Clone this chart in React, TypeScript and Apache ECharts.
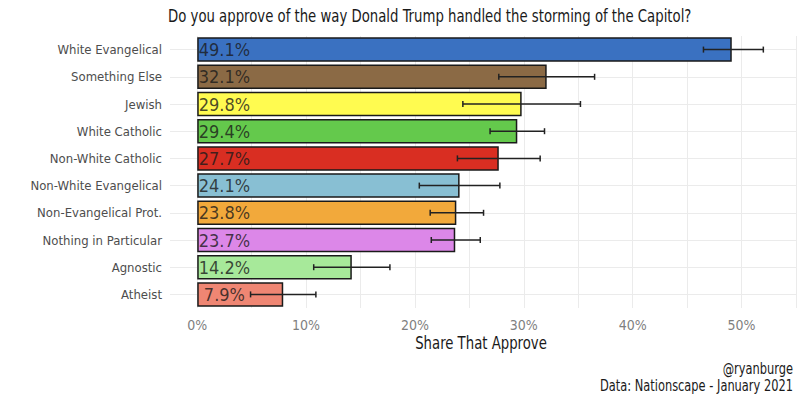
import { useEffect, useRef } from 'react';
import * as echarts from 'echarts';

const CATEGORIES = [
  'White Evangelical',
  'Something Else',
  'Jewish',
  'White Catholic',
  'Non-White Catholic',
  'Non-White Evangelical',
  'Non-Evangelical Prot.',
  'Nothing in Particular',
  'Agnostic',
  'Atheist',
];
const SHARES = [49.1, 32.1, 29.8, 29.4, 27.7, 24.1, 23.8, 23.7, 14.2, 7.9];
const LOWER = [46.5, 27.7, 24.4, 26.9, 23.9, 20.4, 21.4, 21.5, 10.7, 4.9];
const UPPER = [52.0, 36.5, 35.2, 31.9, 31.5, 27.8, 26.3, 26.0, 17.7, 10.9];
const COLORS = [
  '#3a71c1',
  '#8b6a45',
  '#fffb50',
  '#64c94c',
  '#d92e22',
  '#88bfd3',
  '#f2a93b',
  '#dc87e8',
  '#a7e99a',
  '#ef8673',
];
const X_TICKS_EVERY = 10;
const LABEL_X = 2.5;

const FONT = "'DejaVu Sans Condensed', 'Liberation Sans Narrow', sans-serif";
const NARROW = 0.82;

export default function App() {
  const chartRef = useRef<HTMLDivElement>(null);

  useEffect(() => {
    document.body.style.margin = '0';
    if (!chartRef.current) return;
    const chart = echarts.init(chartRef.current, undefined, { renderer: 'svg' });

    // condensed look: big texts drawn as graphic text squeezed horizontally
    const squeezed = (text: string, x: number, y: number, size: number, align: string, color = '#1a1a1a') => ({
      type: 'text',
      x,
      y,
      scaleX: NARROW,
      silent: true,
      style: {
        text,
        font: `${size}px ${FONT}`,
        fill: color,
        textAlign: align,
        textVerticalAlign: 'middle',
      },
    });

    const option = {
      animation: false,
      textStyle: { fontFamily: FONT },
      grid: { left: 170, right: 4, top: 36, bottom: 92, containLabel: false },
      xAxis: {
        type: 'value',
        min: -2.5,
        max: 55,
        interval: 2.5,
        axisLine: { show: false },
        axisTick: { show: false },
        axisLabel: {
          fontFamily: FONT,
          fontSize: 14,
          color: '#7f7f7f',
          margin: 10,
          formatter: (v: number) => (Math.abs(v % X_TICKS_EVERY) < 1e-9 ? `${v}%` : ''),
        },
        splitLine: {
          show: true,
          lineStyle: { color: ['rgba(0,0,0,0)', '#ebebeb'], width: 1 },
        },
      },
      yAxis: {
        type: 'category',
        data: CATEGORIES,
        inverse: true,
        axisLine: { show: false },
        axisTick: { show: false },
        splitLine: { show: false },
        axisLabel: { fontFamily: FONT, fontSize: 13, color: '#4d4d4d', margin: 8 },
      },
      graphic: [
        squeezed('Do you approve of the way Donald Trump handled the storming of the Capitol?', 168, 16, 18, 'left'),
        squeezed('Share That Approve', 481, 343, 18, 'center'),
        squeezed('@ryanburge', 793, 369, 15.5, 'right'),
        squeezed('Data: Nationscape - January 2021', 793, 386, 15.5, 'right'),
      ],
      series: [
        {
          type: 'bar',
          z: 2,
          barCategoryGap: '10%',
          data: SHARES.map((v, i) => ({
            value: v,
            itemStyle: { color: COLORS[i], borderColor: '#1a1a1a', borderWidth: 1.5 },
          })),
          markLine: {
            z: 1,
            silent: true,
            symbol: ['none', 'none'],
            label: { show: false },
            lineStyle: { color: '#ebebeb', type: 'solid', width: 1 },
            data: CATEGORIES.map((c) => ({ yAxis: c })),
          },
        },
        {
          type: 'custom',
          z: 4,
          encode: { x: [0, 1], y: 2 },
          data: LOWER.map((lo, i) => [lo, UPPER[i], i]),
          renderItem: (_params: any, api: any) => {
            const idx = api.value(2);
            const a = api.coord([api.value(0), idx]);
            const b = api.coord([api.value(1), idx]);
            const h = 3;
            const style = { stroke: '#222', lineWidth: 1.5 };
            return {
              type: 'group',
              children: [
                { type: 'line', shape: { x1: a[0], y1: a[1], x2: b[0], y2: b[1] }, style },
                { type: 'line', shape: { x1: a[0], y1: a[1] - h, x2: a[0], y2: a[1] + h }, style },
                { type: 'line', shape: { x1: b[0], y1: b[1] - h, x2: b[0], y2: b[1] + h }, style },
              ],
            };
          },
        },
        {
          type: 'scatter',
          z: 5,
          symbolSize: 0,
          silent: true,
          data: SHARES.map((v, i) => [LABEL_X, i, v]),
          label: {
            show: true,
            position: 'inside',
            fontFamily: FONT,
            fontSize: 18,
            color: '#1a1a1a',
            formatter: (p: any) => `${p.value[2].toFixed(1)}%`,
          },
        },
      ],
    };

    chart.setOption(option);
    return () => chart.dispose();
  }, []);

  return <div ref={chartRef} style={{ width: 800, height: 400 }} />;
}
